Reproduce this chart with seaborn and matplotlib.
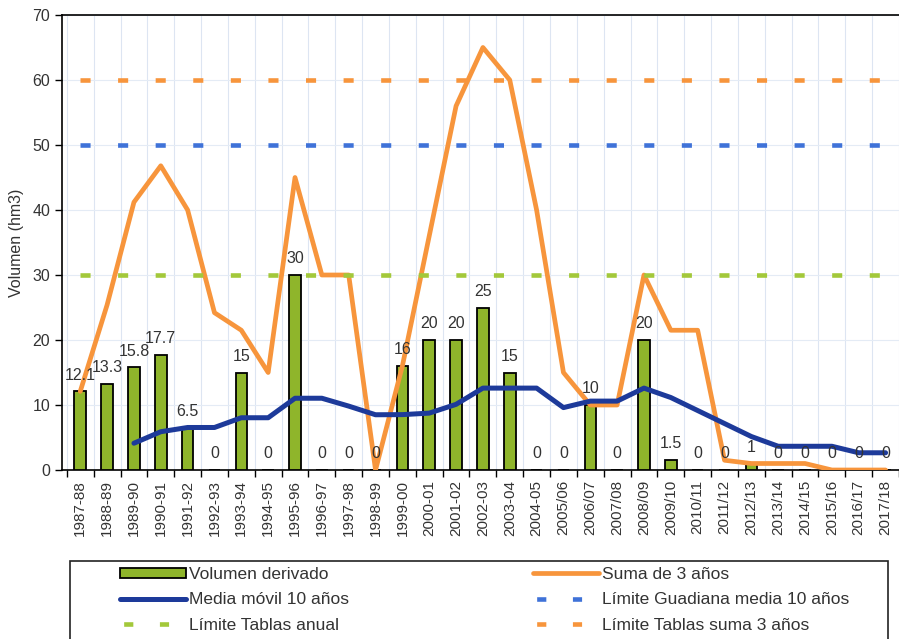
import numpy as np
import pandas as pd
import matplotlib
matplotlib.use("Agg")
import matplotlib.pyplot as plt
import seaborn as sns
from matplotlib.patches import Patch, Rectangle
from matplotlib.lines import Line2D

seasons = ["1987-88", "1988-89", "1989-90", "1990-91", "1991-92", "1992-93", "1993-94",
           "1994-95", "1995-96", "1996-97", "1997-98", "1998-99", "1999-00", "2000-01",
           "2001-02", "2002-03", "2003-04", "2004-05", "2005/06", "2006/07", "2007/08",
           "2008/09", "2009/10", "2010/11", "2011/12", "2012/13", "2013/14", "2014/15",
           "2015/16", "2016/17", "2017/18"]
volumen = [12.1, 13.3, 15.8, 17.7, 6.5, 0, 15, 0, 30, 0, 0, 0, 16, 20, 20, 25, 15, 0, 0,
           10, 0, 20, 1.5, 0, 0, 1, 0, 0, 0, 0, 0]
suma3 = [12.1, 25.4, 41.2, 46.8, 40.0, 24.2, 21.5, 15.0, 45.0, 30.0, 30.0, 0.0, 16.0, 36.0,
         56.0, 65.0, 60.0, 40.0, 15.0, 10.0, 10.0, 30.0, 21.5, 21.5, 1.5, 1.0, 1.0, 1.0,
         0.0, 0.0, 0.0]
media10 = [np.nan, np.nan, 4.12, 5.89, 6.54, 6.54, 8.04, 8.04, 11.04, 11.04, 9.83, 8.50,
           8.52, 8.75, 10.10, 12.60, 12.60, 12.60, 9.60, 10.60, 10.60, 12.60, 11.15, 9.15,
           7.15, 5.15, 3.65, 3.65, 3.65, 2.65, 2.65]
lim_guadiana = 50
lim_anual = 30
lim_suma3 = 60

labels = ["Volumen derivado", "Suma de 3 años", "Media móvil 10 años",
          "Límite Guadiana media 10 años", "Límite Tablas anual", "Límite Tablas suma 3 años"]

GREEN = "#8fb52b"
ORANGE = "#f7953c"
NAVY = "#1d3a9a"
BLUE_D = "#3f72d8"
GREEN_D = "#a3c83a"
ORANGE_D = "#f7953c"
TXT = "#333333"

sns.set_style("white")
plt.rcParams["font.family"] = ["Liberation Sans", "DejaVu Sans"]

n = len(seasons)
df = pd.DataFrame({
    "temporada": seasons,
    "pos": np.arange(n),
    "volumen": volumen,
    "suma": suma3,
    "media": media10,
    "lg": [lim_guadiana] * n,
    "la": [lim_anual] * n,
    "ls": [lim_suma3] * n,
})

fig = plt.figure(figsize=(8.99, 6.39), dpi=100)
ax = fig.add_axes([62 / 899, 1 - 470 / 639, (899 - 62) / 899, (470 - 15) / 639])

sns.barplot(data=df, x="temporada", y="volumen", color=GREEN, saturation=1,
            edgecolor="black", linewidth=1.3, width=0.43, ax=ax, zorder=3)
sns.lineplot(data=df, x="pos", y="suma", color=ORANGE, linewidth=3.4, ax=ax,
             legend=False, zorder=4)
sns.lineplot(data=df, x="pos", y="media", color=NAVY, linewidth=3.6, ax=ax,
             legend=False, zorder=5)
DLW = 3.3
dash = (0, (2.2, 6.0))
for col, c in [("lg", BLUE_D), ("la", GREEN_D), ("ls", ORANGE_D)]:
    sns.lineplot(data=df, x="pos", y=col, color=c, linewidth=DLW, linestyle=dash,
                 ax=ax, legend=False, zorder=6)

for i, v in enumerate(volumen):
    ax.text(i, v + 2.5, f"{v:g}", ha="center", va="center", fontsize=11.5,
            color=TXT, zorder=7)

ax.set_xlim(-0.68, 30.2)
ax.set_ylim(0, 70)
ax.set_yticks(np.arange(0, 71, 10))
ax.set_xticks(np.arange(n))
ax.set_xticklabels(seasons, rotation=90, fontsize=11, color=TXT)
ax.set_xticks(np.arange(n + 1) - 0.5, minor=True)
ax.tick_params(axis="x", which="major", length=0, pad=7)
ax.tick_params(axis="x", which="minor", bottom=True, length=5, width=1, color="black",
               direction="out")
ax.tick_params(axis="y", which="major", left=True, length=5, width=1, color="black",
               direction="out", labelsize=11.5, labelcolor=TXT)
ax.set_xlabel("")
ax.set_ylabel("Volumen (hm3)", fontsize=11.5, color=TXT, labelpad=6)
ax.grid(False)
ax.grid(axis="x", which="minor", color="#dde5f2", linewidth=0.8, zorder=0)
ax.grid(axis="y", which="major", color="#e4ebf5", linewidth=0.8, zorder=0)
ax.set_axisbelow(True)
for s in ["left", "bottom", "top"]:
    ax.spines[s].set_color("black")
    ax.spines[s].set_linewidth(1.2)
ax.spines["right"].set_visible(False)

leg_dash = (7.0, (2.0, 5.8))
h_bar = Patch(facecolor=GREEN, edgecolor="black", linewidth=1.3)
h_media = Line2D([], [], color=NAVY, linewidth=3.6)
h_anual = Line2D([], [], color=GREEN_D, linewidth=DLW, linestyle=leg_dash)
h_suma = Line2D([], [], color=ORANGE, linewidth=3.4)
h_guad = Line2D([], [], color=BLUE_D, linewidth=DLW, linestyle=leg_dash)
h_ls = Line2D([], [], color=ORANGE_D, linewidth=DLW, linestyle=leg_dash)

fs = 12.5
common = dict(loc="upper left", borderaxespad=0, borderpad=0, fontsize=fs,
              handlelength=66 / (fs * 100 / 72), handleheight=0.5,
              handletextpad=0.2, labelspacing=0.6, frameon=False)
leg1 = fig.legend([h_bar, h_media, h_anual], [labels[0], labels[2], labels[4]],
                  bbox_to_anchor=(120 / 899, 1 - 567 / 639), **common)
leg2 = fig.legend([h_suma, h_guad, h_ls], [labels[1], labels[3], labels[5]],
                  bbox_to_anchor=(533 / 899, 1 - 567 / 639), **common)
for lg in (leg1, leg2):
    for t in lg.get_texts():
        t.set_color(TXT)

fig.patches.append(Rectangle((70 / 899, -0.02), (888 - 70) / 899, 0.02 + 1 - 561 / 639,
                             transform=fig.transFigure, fill=False,
                             edgecolor="#222222", linewidth=1.2))

fig.savefig("out.png", dpi=100)
